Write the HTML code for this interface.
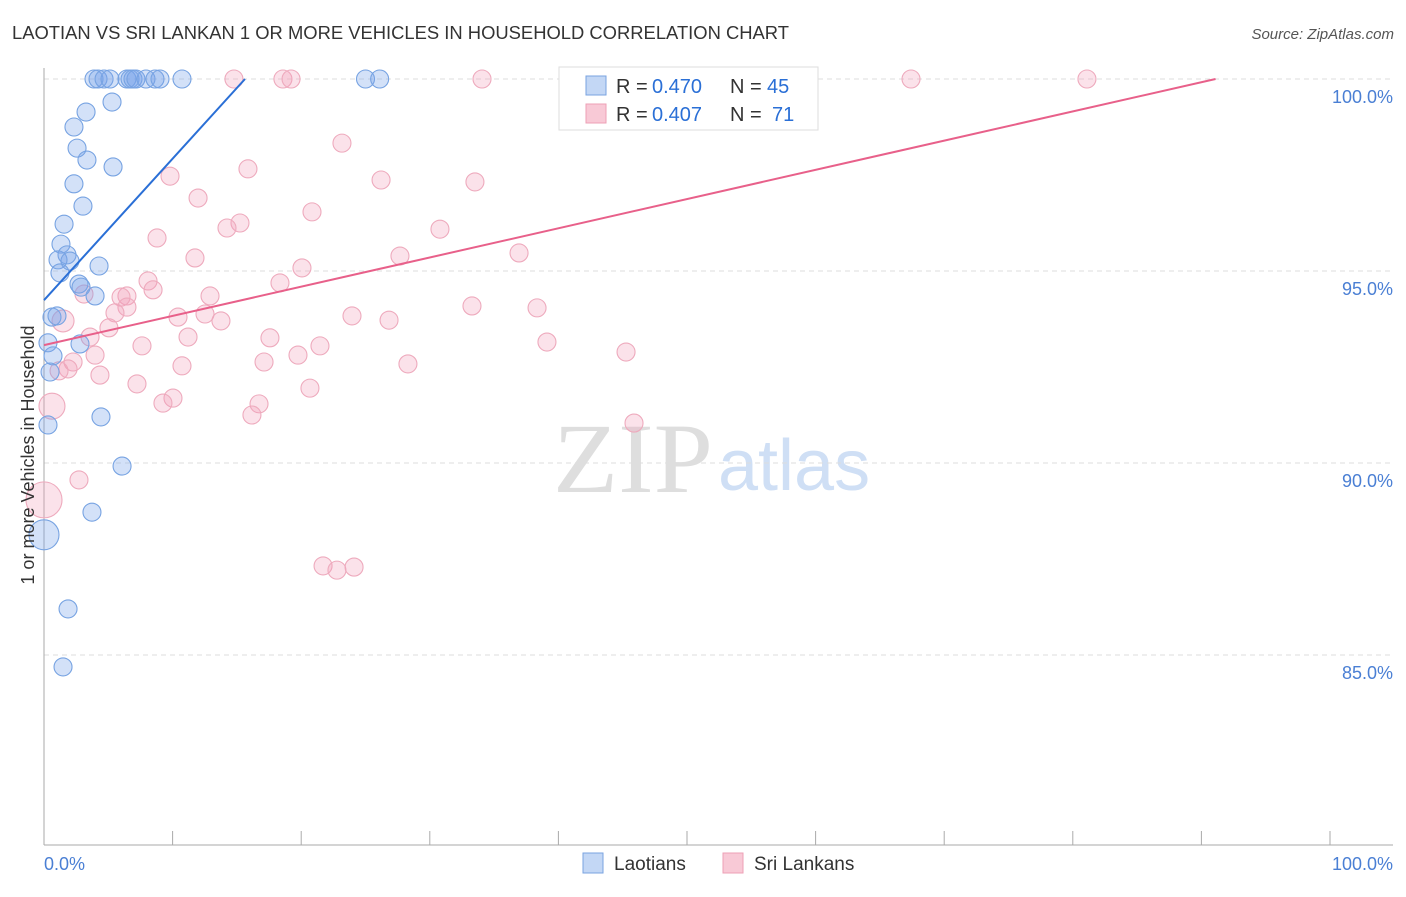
<!DOCTYPE html>
<html><head><meta charset="utf-8"><style>
body{margin:0;background:#fff;font-family:"Liberation Sans",sans-serif;}
svg text{font-family:"Liberation Sans",sans-serif;}
</style></head><body>
<svg id="chart" width="1406" height="892" xmlns="http://www.w3.org/2000/svg">
<text x="12" y="39" font-size="18.4" fill="#333">LAOTIAN VS SRI LANKAN 1 OR MORE VEHICLES IN HOUSEHOLD CORRELATION CHART</text>
<text x="1394" y="39" font-size="15" fill="#555" text-anchor="end" font-style="italic">Source: ZipAtlas.com</text>
<g>
<text x="553" y="492" font-size="100" fill="#dedede" style="font-family:'Liberation Serif',serif" textLength="160" lengthAdjust="spacingAndGlyphs">ZIP</text>
<text x="718" y="490" font-size="72" fill="#cfdff5">atlas</text>
</g>
<g id="grid"></g>
<g id="axes"></g>
<g id="marks"></g>
<text transform="translate(34,455) rotate(-90)" font-size="18" fill="#333" text-anchor="middle">1 or more Vehicles in Household</text>
<text x="44" y="870" font-size="18" fill="#4a7fd4">0.0%</text>
<text x="1393" y="870" font-size="18" fill="#4a7fd4" text-anchor="end">100.0%</text>
<g>
<rect x="559" y="67" width="259" height="63" fill="#fff" stroke="#ddd"/>
<rect x="586" y="76" width="20" height="19" fill="#c3d7f5" stroke="#7aa3e0"/>
<rect x="586" y="104" width="20" height="19" fill="#f8c9d6" stroke="#eea0b6"/>
<text x="616" y="93" font-size="20" fill="#333">R =</text>
<text x="652" y="93" font-size="20" fill="#2a6fd6">0.470</text>
<text x="730" y="93" font-size="20" fill="#333">N =</text>
<text x="767" y="93" font-size="20" fill="#2a6fd6">45</text>
<text x="616" y="121" font-size="20" fill="#333">R =</text>
<text x="652" y="121" font-size="20" fill="#2a6fd6">0.407</text>
<text x="730" y="121" font-size="20" fill="#333">N =</text>
<text x="772" y="121" font-size="20" fill="#2a6fd6">71</text>
</g>
<g>
<rect x="583" y="853" width="20" height="20" fill="#c3d7f5" stroke="#7aa3e0"/>
<text x="614" y="870" font-size="19" fill="#333">Laotians</text>
<rect x="723" y="853" width="20" height="20" fill="#f8c9d6" stroke="#eea0b6"/>
<text x="754" y="870" font-size="19" fill="#333">Sri Lankans</text>
</g>
</svg>
<script>
const yTicks=[100,95,90,85];
const yTickLabels=["100.0%","95.0%","90.0%","85.0%"];
const blueX=[3.89,4.2,4.67,5.13,6.45,6.69,6.92,7.15,7.93,8.63,9.02,10.73,25.0,26.1,5.29,3.27,2.33,2.57,3.34,2.33,3.03,5.37,1.56,1.32,1.79,1.09,2.02,1.24,4.28,2.72,2.88,3.97,0.62,1.01,2.80,0.31,0.70,0.47,0.31,4.43,6.07,3.73,0,1.87,1.48];
const blueY=[100,100,100,100,100,100,100,100,100,100,100,100,100,100,99.40,99.14,98.75,98.20,97.89,97.27,96.69,97.71,96.22,95.70,95.42,95.29,95.26,94.95,95.13,94.66,94.58,94.35,93.80,93.83,93.10,93.13,92.79,92.37,90.99,91.20,89.92,88.72,88.13,86.20,84.69];
const blueR=[9,9,9,9,9,9,9,9,9,9,9,9,9,9,9,9,9,9,9,9,9,9,9,9,9,9,9,9,9,9,9,9,9,9,9,9,9,9,9,9,9,9,15,9,9];
const pinkX=[14.77,18.58,19.21,34.06,54.43,67.42,81.10,41.29,23.17,15.86,26.21,33.51,9.80,11.98,20.84,15.24,14.23,30.79,8.79,11.74,27.68,36.94,20.06,8.09,18.35,8.48,6.45,5.99,12.91,3.11,33.28,38.34,6.45,5.52,10.42,12.52,23.95,26.83,13.76,1.48,5.05,17.57,3.58,11.20,7.62,21.46,39.11,45.26,19.75,3.97,17.11,2.26,10.73,28.30,1.87,1.17,4.35,7.23,20.68,10.03,9.25,16.72,16.17,0.62,45.88,2.72,0,21.70,22.78,24.11];
const pinkY=[100,100,100,100,100,100,100,100,98.33,97.66,97.37,97.32,97.47,96.90,96.54,96.25,96.12,96.09,95.86,95.34,95.39,95.47,95.08,94.74,94.69,94.51,94.35,94.32,94.35,94.40,94.09,94.04,94.06,93.91,93.80,93.88,93.83,93.72,93.70,93.70,93.52,93.26,93.28,93.28,93.05,93.05,93.15,92.89,92.81,92.81,92.63,92.63,92.53,92.58,92.45,92.40,92.29,92.06,91.95,91.69,91.56,91.54,91.25,91.48,91.04,89.56,89.04,87.32,87.21,87.29];
const pinkR=[9,9,9,9,9,9,9,9,9,9,9,9,9,9,9,9,9,9,9,9,9,9,9,9,9,9,9,9,9,9,9,9,9,9,9,9,9,9,9,11,9,9,9,9,9,9,9,9,9,9,9,9,9,9,9,9,9,9,9,9,9,9,9,13,9,9,18,9,9,9];
const blueLine=[0,94.24,15.63,100];
const pinkLine=[0,93.07,91.1,100];
const NS='http://www.w3.org/2000/svg';
const X0=44,X1=1330,YTOP=79,PXPER=38.4;
function sx(v){return X0+(X1-X0)*v/100;}
function sy(v){return YTOP+(100-v)*PXPER;}
function mk(tag,attrs,parent){const e=document.createElementNS(NS,tag);for(const k in attrs)e.setAttribute(k,attrs[k]);parent.appendChild(e);return e;}
const grid=document.getElementById('grid'),axes=document.getElementById('axes'),marks=document.getElementById('marks');
yTicks.forEach((t,i)=>{
  const l=mk('line',{x1:44,x2:1393,y1:sy(t),y2:sy(t),stroke:'#ddd','stroke-dasharray':'5,4'},grid);
  
  
  const tx=mk('text',{x:1393,y:sy(t)+24,'font-size':18,fill:'#4a7fd4','text-anchor':'end'},grid);
  tx.textContent=yTickLabels[i];
  
  
});
const ya=mk('line',{x1:44,x2:44,y1:68,y2:845,stroke:'#aaa'},axes);


const xa=mk('line',{x1:44,x2:1393,y1:845,y2:845,stroke:'#aaa'},axes);


for(let i=0;i<=10;i++){
  const t=mk('line',{x1:sx(i*10),x2:sx(i*10),y1:831,y2:845,stroke:'#aaa'},axes);
  
  
}
function dots(xs,ys,rs,fill,stroke,name){
  xs.forEach((v,i)=>{
    const c=mk('circle',{cx:sx(v),cy:sy(ys[i]),r:rs[i],fill:fill,stroke:stroke,'stroke-width':1.1},marks);
    
    
  });
}
dots(pinkX,pinkY,pinkR,'rgba(243,160,185,0.3)','#eeaabd','srilankan-point');
dots(blueX,blueY,blueR,'rgba(120,165,235,0.33)','#77a3e2','laotian-point');
const bl=mk('line',{x1:sx(blueLine[0]),y1:sy(blueLine[1]),x2:sx(blueLine[2]),y2:sy(blueLine[3]),stroke:'#2a6fd6','stroke-width':2},marks);


const pl=mk('line',{x1:sx(pinkLine[0]),y1:sy(pinkLine[1]),x2:sx(pinkLine[2]),y2:sy(pinkLine[3]),stroke:'#e8608a','stroke-width':2},marks);


</script>
</body></html>
